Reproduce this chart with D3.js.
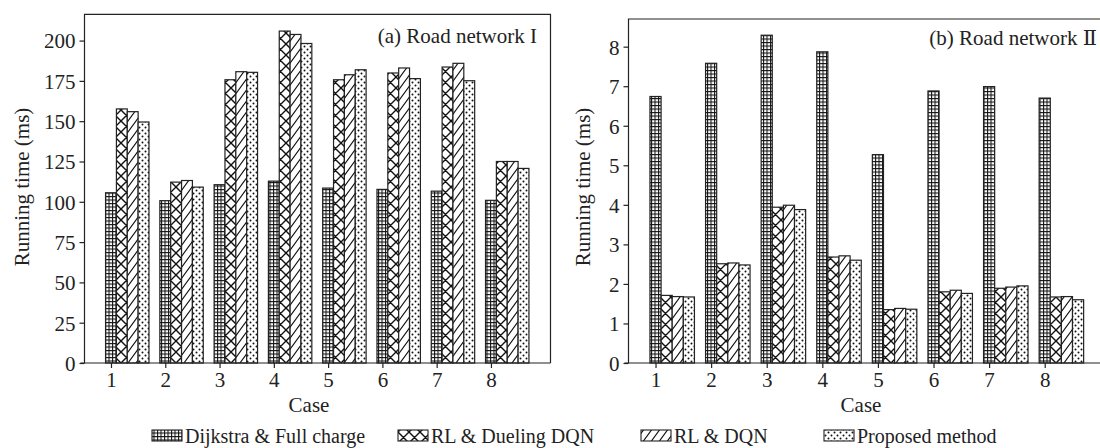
<!DOCTYPE html>
<html>
<head>
<meta charset="utf-8">
<script src="https://cdn.jsdelivr.net/npm/d3@7"></script>
<style>
  body { margin: 0; background: #fff; }
  svg { display: block; font-family: "Liberation Serif", "DejaVu Serif", serif; }
  .axis text { font-family: "Liberation Serif", serif; font-size: 21px; fill: #222; }
  .axis path, .axis line { stroke: #222; stroke-width: 1.2px; }
</style>
</head>
<body>
<script>
// cases on the x axis
var cases = [1, 2, 3, 4, 5, 6, 7, 8];
var seriesNames = ["Dijkstra & Full charge", "RL & Dueling DQN", "RL & DQN", "Proposed method"];

// (a) Road network I, running time (ms)
var netI_dijkstra = [105.6, 100.7, 110.6, 112.8, 108.5, 107.7, 106.6, 100.9];
var netI_dueling  = [157.6, 112.2, 175.7, 205.9, 175.7, 179.9, 183.6, 125.0];
var netI_dqn      = [155.9, 113.2, 180.7, 203.8, 178.8, 183.0, 185.9, 125.0];
var netI_proposed = [149.5, 109.1, 180.3, 198.2, 181.9, 176.4, 175.1, 120.7];
var netI_yTicks = [0, 25, 50, 75, 100, 125, 150, 175, 200];

// (b) Road network II, running time (ms)
var netII_dijkstra = [6.74, 7.58, 8.29, 7.87, 5.27, 6.88, 6.99, 6.70];
var netII_dueling  = [1.71, 2.51, 3.94, 2.68, 1.35, 1.80, 1.89, 1.67];
var netII_dqn      = [1.68, 2.53, 3.99, 2.71, 1.38, 1.84, 1.92, 1.68];
var netII_proposed = [1.67, 2.48, 3.88, 2.60, 1.36, 1.76, 1.95, 1.60];
var netII_yTicks = [0, 1, 2, 3, 4, 5, 6, 7, 8];

var W = 1100, H = 448;
var svg = d3.select("body").append("svg").attr("width", W).attr("height", H);
var defs = svg.append("defs");

// hatch patterns, one per series
function addPattern(id, w, h, draw){
  var p = defs.append("pattern").attr("id", id)
    .attr("patternUnits", "userSpaceOnUse")
    .attr("width", w).attr("height", h);
  p.append("rect").attr("width", w).attr("height", h).attr("fill", "#fff");
  draw(p);
}
addPattern("pGrid", 3.5, 3.5, function(p){
  p.append("path").attr("d", "M0,0.5H3.5M0.5,0V3.5")
    .attr("stroke", "#111").attr("stroke-width", 1.1).attr("fill", "none");
});
addPattern("pCross", 11, 11, function(p){
  p.append("path").attr("d", "M0,0L11,11M11,0L0,11M-1,10L1,12M10,-1L12,1M-1,1L1,-1M10,12L12,10")
    .attr("stroke", "#111").attr("stroke-width", 1.4).attr("fill", "none");
});
addPattern("pDiag", 8, 11, function(p){
  p.append("path").attr("d", "M0,11L8,0M-2,2.75L2,-2.75M6,13.75L10,8.25")
    .attr("stroke", "#111").attr("stroke-width", 1.1).attr("fill", "none");
});
addPattern("pDots", 6, 6, function(p){
  p.append("circle").attr("cx", 1.5).attr("cy", 1.5).attr("r", 1).attr("fill", "#111");
  p.append("circle").attr("cx", 4.5).attr("cy", 4.5).attr("r", 1).attr("fill", "#111");
});
var fills = ["url(#pGrid)", "url(#pCross)", "url(#pDiag)", "url(#pDots)"];

function panel(opt){
  var g = svg.append("g");
  var x = d3.scaleLinear().domain(opt.xDomain).range([opt.left, opt.right]);
  var y = d3.scaleLinear().domain(opt.yDomain).range([opt.bottom, opt.top]);
  var step = x(2) - x(1);
  var bw = step * 0.2;

  // bars, first bar of each group sits on the tick
  opt.series.forEach(function(vals, k){
    g.selectAll("rect.s" + k)
      .data(vals)
      .enter().append("rect")
      .attr("class", "s" + k)
      .attr("x", function(d, i){ return x(cases[i]) - bw / 2 + k * bw; })
      .attr("y", function(d){ return y(d); })
      .attr("width", bw)
      .attr("height", function(d){ return y(0) - y(d); })
      .attr("fill", fills[k])
      .attr("stroke", "#222")
      .attr("stroke-width", 1.2);
  });

  // frame
  g.append("path")
    .attr("d", "M" + opt.left + "," + opt.bottom + "V" + opt.top + "H" + opt.right + "V" + opt.bottom)
    .attr("fill", "none").attr("stroke", "#222").attr("stroke-width", 1.2);

  var xAxis = d3.axisBottom(x).tickValues(cases).tickSize(5).tickFormat(d3.format("d"));
  var yAxis = d3.axisLeft(y).tickValues(opt.yTicks).tickSize(5).tickFormat(d3.format("d"));

  g.append("g").attr("class", "axis")
    .attr("transform", "translate(0," + opt.bottom + ")")
    .call(xAxis)
    .call(function(s){ s.select(".domain").attr("d", "M" + (opt.left - 4) + ",0H" + opt.right); })
    .selectAll("text").attr("y", 24).attr("dy", 0);

  g.append("g").attr("class", "axis")
    .attr("transform", "translate(" + opt.left + ",0)")
    .call(yAxis)
    .call(function(s){ s.select(".domain").remove(); })
    .selectAll("text").attr("x", -9).attr("dy", "0.35em");

  // labels
  g.append("text")
    .attr("x", opt.caseX).attr("y", 412)
    .attr("text-anchor", "middle").attr("font-size", 21).attr("fill", "#222")
    .text("Case");
  g.append("text")
    .attr("transform", "translate(" + opt.yLabelX + ",187) rotate(-90)")
    .attr("text-anchor", "middle").attr("font-size", 21).attr("fill", "#222")
    .text("Running time (ms)");
  g.append("text")
    .attr("x", opt.titleX).attr("y", opt.titleY)
    .attr("text-anchor", "end").attr("font-size", 21).attr("fill", "#222")
    .text(opt.title);
}

panel({
  left: 84.5, right: 550.5, top: 14.3, bottom: 363,
  xDomain: [0.512, 9.097], yDomain: [0, 216.3], yTicks: netI_yTicks,
  series: [netI_dijkstra, netI_dueling, netI_dqn, netI_proposed],
  title: "(a) Road network I", titleX: 537, titleY: 43,
  yLabelX: 29, caseX: 309
});
panel({
  left: 628.5, right: 1105.7, top: 19, bottom: 363,
  xDomain: [0.514, 9.097], yDomain: [0, 8.70], yTicks: netII_yTicks,
  series: [netII_dijkstra, netII_dueling, netII_dqn, netII_proposed],
  title: "(b) Road network \u2161", titleX: 1097, titleY: 45,
  yLabelX: 590, caseX: 861
});

// legend
var legendTextX = [185, 431, 674, 857];
var leg = svg.append("g");
seriesNames.forEach(function(name, k){
  var lg = leg.append("g").attr("transform", "translate(" + legendTextX[k] + ",443)");
  lg.append("rect").attr("x", -33).attr("y", -13).attr("width", 30).attr("height", 11)
    .attr("fill", fills[k]).attr("stroke", "#222").attr("stroke-width", 1.1);
  lg.append("text")
    .attr("font-size", 20).attr("fill", "#222")
    .text(name);
});
</script>
</body>
</html>
